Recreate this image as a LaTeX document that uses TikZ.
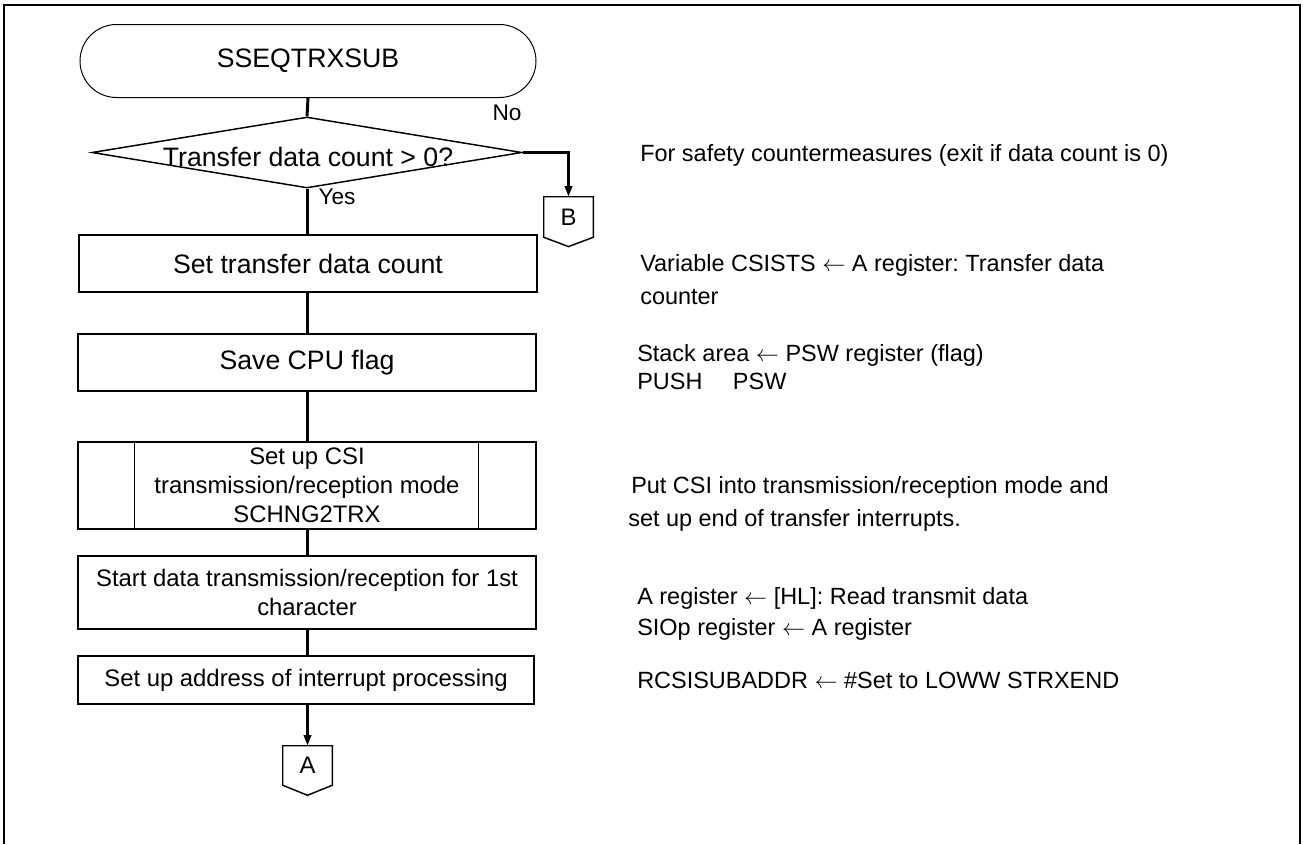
\documentclass[tikz,border=0pt]{standalone}
\usepackage{fontspec}
\setmainfont{Liberation Sans}
\usetikzlibrary{arrows.meta,shapes.geometric,shapes.misc}
\frenchspacing
\begin{document}
\begin{tikzpicture}[x=0.75pt,y=-0.75pt,
  big/.style={font=\fontsize{20}{24}\selectfont},
  med/.style={font=\fontsize{17.9}{21.75}\selectfont},
  lbl/.style={font=\fontsize{17}{20}\selectfont,inner sep=0pt},
  procbox/.style={draw,minimum width=343.5pt,inner sep=0pt,align=center},
  flow/.style={line width=2.25pt},
  arr/.style={flow,-{Triangle[length=8pt,width=5.5pt]}},
  conn/.style={minimum width=36.75pt,inner sep=0pt,draw=none,med},
  note/.style={anchor=base west,inner sep=0pt,font=\fontsize{17.6}{21}\selectfont}
]
\useasboundingbox (0,0) rectangle (1303,844);
% frame
\draw[line width=1.6pt] (4,844) -- (4,5) -- (1300,5) -- (1300,844);

% flow nodes
\node[draw,rounded rectangle,line width=0.75pt,minimum width=456*0.75pt,minimum height=73*0.75pt,inner sep=0pt,big] (start) at (308,61) {SSEQTRXSUB};
\node[draw,diamond,line width=1.1pt,minimum width=430*0.75pt,minimum height=71*0.75pt,inner sep=0pt] (dec) at (307,152.5) {};
\node[big,inner sep=0pt] (dectext) at (308,157) {Transfer data count > 0?};
\node[lbl] (no) at (507,113) {No};
\node[lbl] (yes) at (337,197) {Yes};

\node[procbox,big,line width=1.5pt,minimum height=57*0.75pt] (b1) at (308,263.5) {Set transfer data count};
\node[procbox,big,line width=1.2pt,minimum height=57*0.75pt] (b2) at (307,362.5) {Save CPU flag};
\node[procbox,med,line width=1.1pt,minimum height=87*0.75pt] (b3) at (307,485.5) {Set up CSI\\transmission/reception mode\\SCHNG2TRX};
\node[procbox,med,line width=1.1pt,minimum height=73*0.75pt] (b4) at (307,592.5) {Start data transmission/reception for 1st\\character};
\node[procbox,med,line width=1.8pt,minimum width=456*0.75pt,minimum height=48*0.75pt] (b5) at (306,680) {Set up address of interrupt processing};
\draw[line width=1.1pt] ([xshift=42.75pt]b3.north west) -- ([xshift=42.75pt]b3.south west);
\draw[line width=1.1pt] ([xshift=-43.5pt]b3.north east) -- ([xshift=-43.5pt]b3.south east);

% off-page connectors
\node[conn,minimum height=40*0.75pt] (B) at (568.5,217) {B};
\draw[line width=1.1pt] (B.north west) -- (B.north east) -- (B.south east) -- ([yshift=-7pt]B.south) -- (B.south west) -- cycle;
\node[conn,minimum height=39*0.75pt] (A) at (307.5,765.5) {A};
\draw[line width=1.1pt] (A.north west) -- (A.north east) -- (A.south east) -- ([yshift=-7.5pt]A.south) -- (A.south west) -- cycle;

% connectors
\draw[flow] (start.south) -- (dec.north);
\draw[flow] (dec.south) -- (b1.north -| dec.south);
\draw[flow] (b1.south -| dec.south) -- (b2.north -| dec.south);
\draw[flow] (b2.south) -- (b3.north);
\draw[flow] (b3.south) -- (b4.north);
\draw[flow] (b4.south -| b3.south) -- (b5.north -| b3.south);
\draw[arr] (b5.south -| A.north) -- (A.north);
\draw[arr] (dec.east) -- (dec.east -| B.north) -- (B.north);

% annotations
\node[note] (n1) at (640,161.5) {For safety countermeasures (exit if data count is 0)};
\node[note] (n2a) at (640,271) {Variable CSISTS $\leftarrow$ A register: Transfer data};
\node[note] (n2b) at (640,304) {counter};
\node[note] (n3a) at (637,361) {Stack area $\leftarrow$ PSW register (flag)};
\node[note] (n3b) at (637,389) {PUSH\hspace{1.3em}PSW};
\node[note] (n4a) at (631,493) {Put CSI into transmission/reception mode and};
\node[note] (n4b) at (628,526) {set up end of transfer interrupts.};
\node[note] (n5a) at (637,604) {A register $\leftarrow$ [HL]: Read transmit data};
\node[note] (n5b) at (637,635) {SIOp register $\leftarrow$ A register};
\node[note] (n6) at (637,688.5) {RCSISUBADDR $\leftarrow$ \#Set to LOWW STRXEND};
\end{tikzpicture}
\end{document}
